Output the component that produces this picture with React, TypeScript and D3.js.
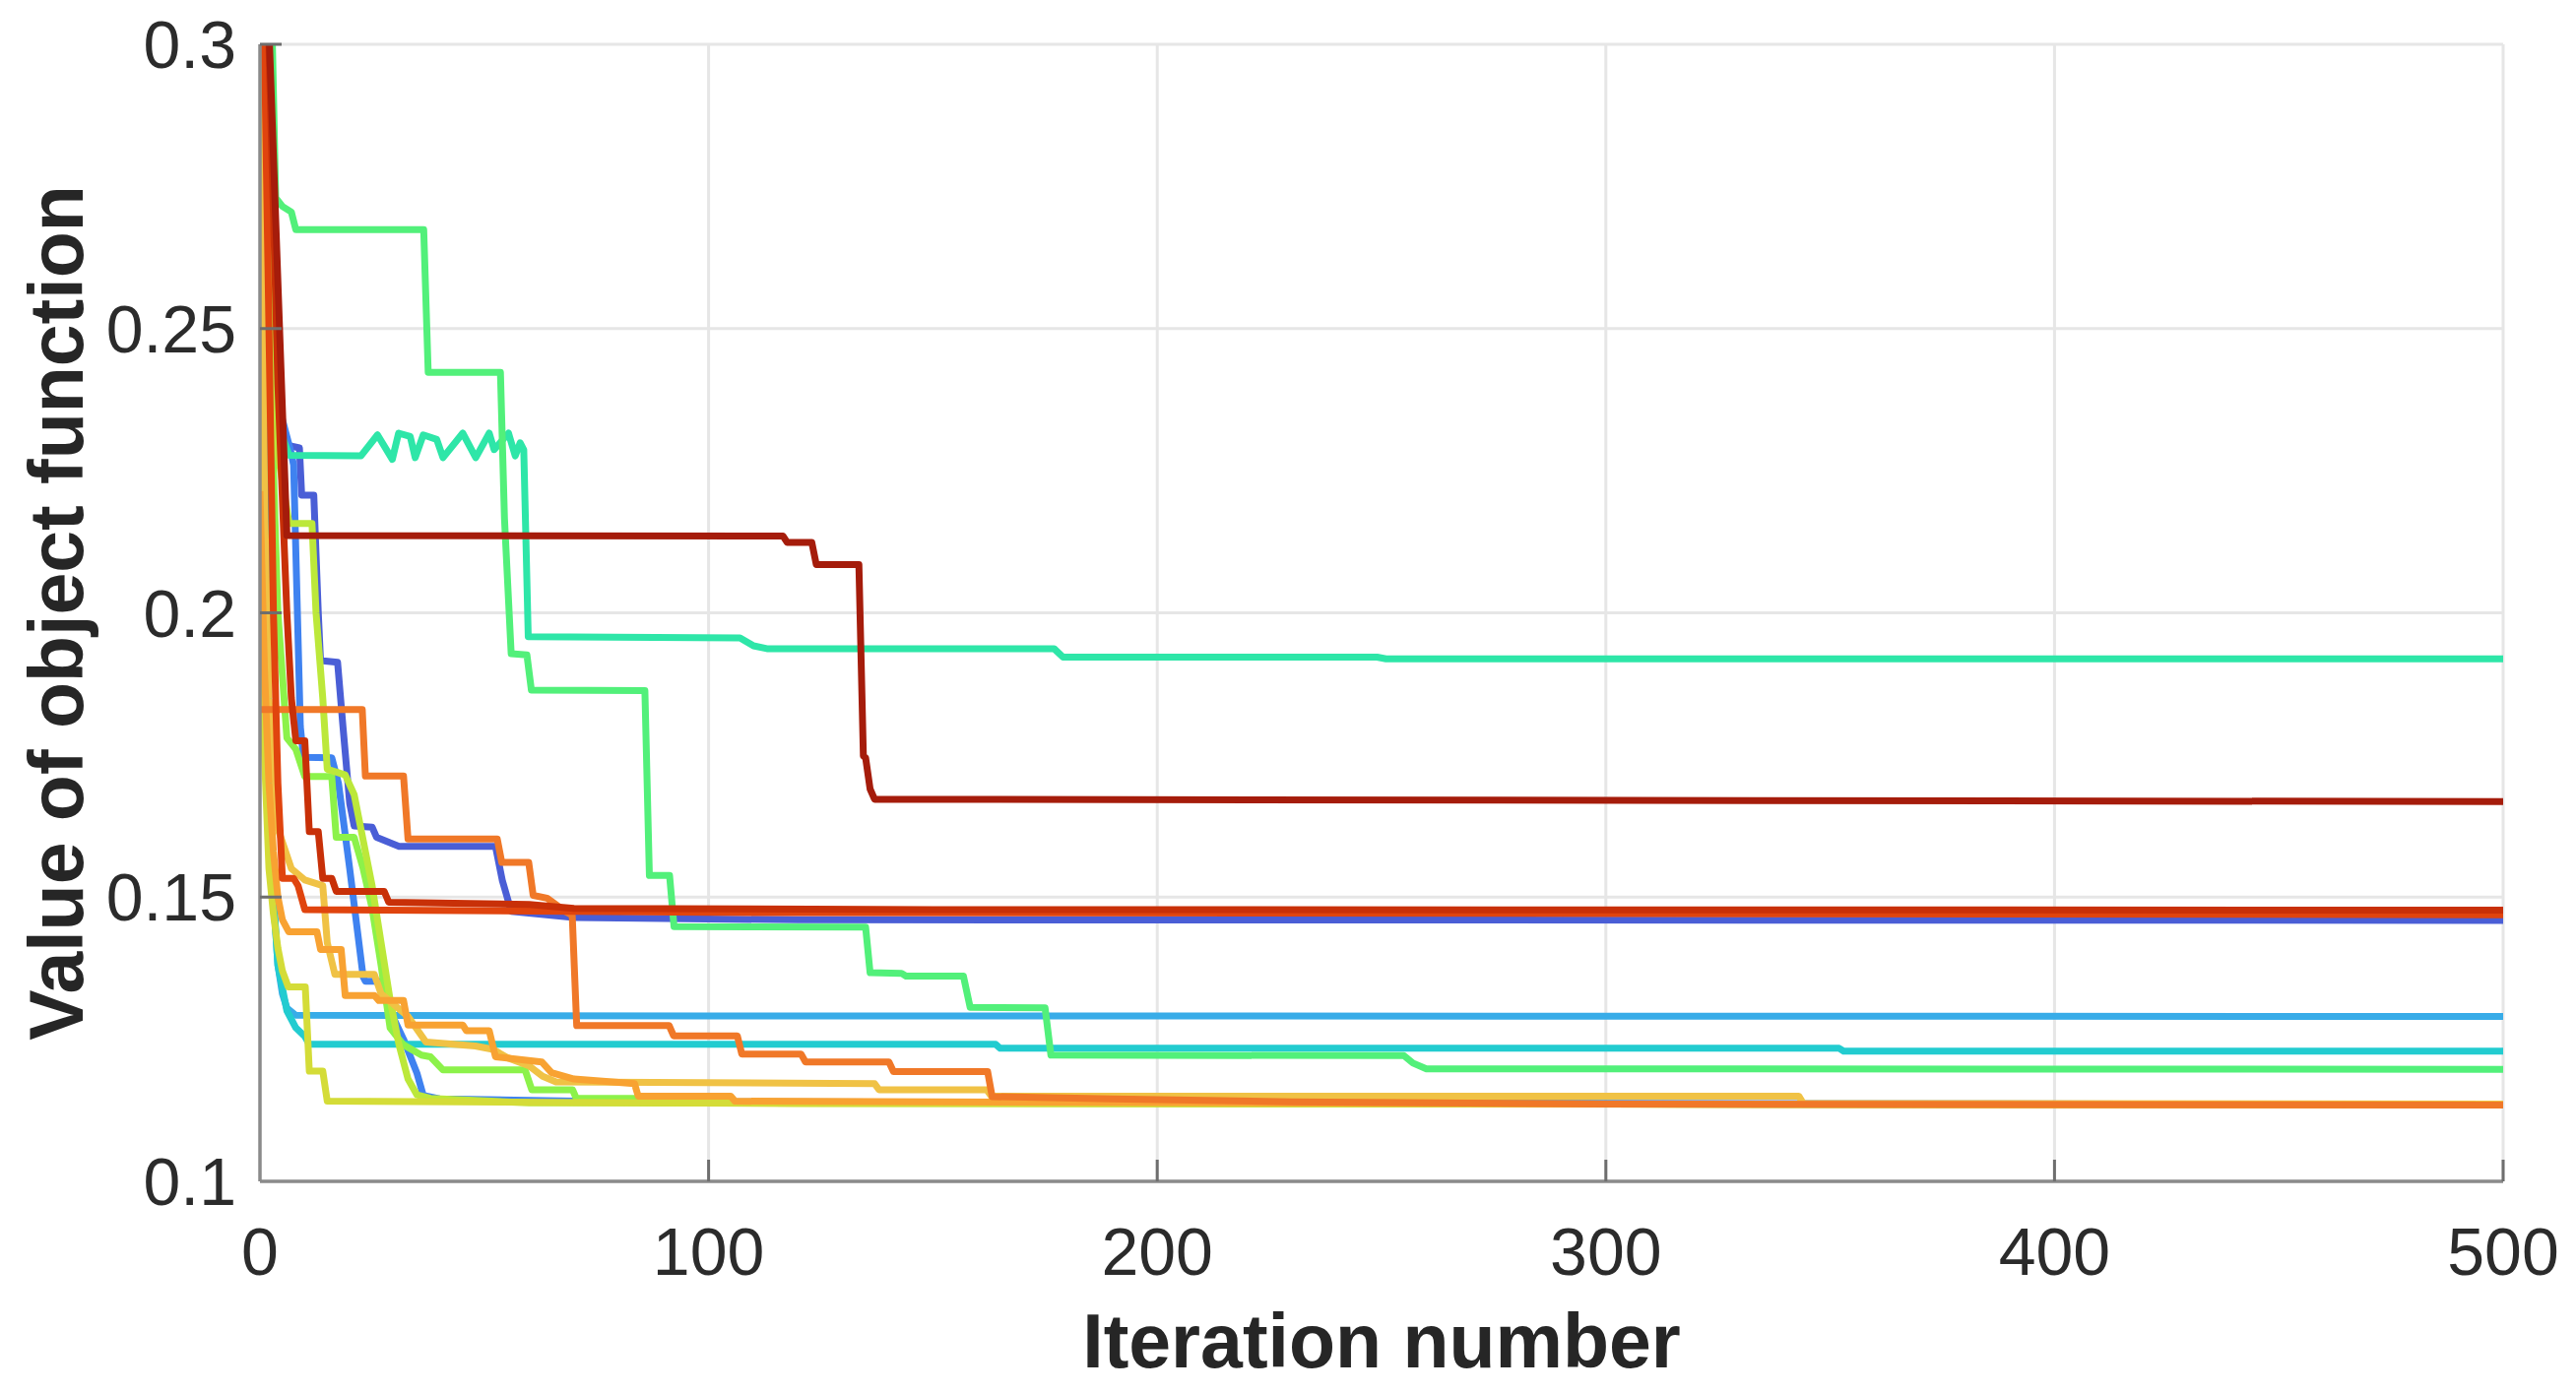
import * as d3 from 'd3';

type Pt = [number, number];

// iteration / best objective value (steps as plateau end points)
const blueA: Pt[] = [
  [0, 0.34], [2, 0.262], [4, 0.236], [6, 0.2295], [8.8, 0.229], [9.3, 0.2207], [12, 0.2207], [13, 0.2],
  [13.5, 0.1916], [17.3, 0.1913], [18.5, 0.18], [20, 0.1665], [21, 0.1625], [25, 0.1623], [26, 0.1605],
  [31, 0.1589], [52.5, 0.1589], [54, 0.153], [56, 0.1475], [70, 0.1464], [120, 0.146], [500, 0.1459],
];
const blueB: Pt[] = [
  [0, 0.33], [1, 0.27], [3, 0.24], [7, 0.228], [7.5, 0.226], [9, 0.18], [9.7, 0.1746], [16, 0.1745],
  [17.5, 0.17], [20, 0.155], [23, 0.136], [23.5, 0.1352], [26.5, 0.1352], [29, 0.13], [32, 0.125],
  [35, 0.119], [36.4, 0.1151], [40, 0.1145], [80, 0.114], [500, 0.1135],
];
const lightBlue: Pt[] = [
  [0, 0.34], [1, 0.22], [2, 0.17], [3, 0.15], [4, 0.138], [5, 0.133], [6, 0.1305], [8, 0.1292],
  [100, 0.1291], [500, 0.129],
];
const cyan: Pt[] = [
  [0, 0.34], [1, 0.24], [2, 0.175], [3, 0.15], [4, 0.138], [6, 0.13], [8, 0.127], [10, 0.1255],
  [11, 0.1241], [164, 0.1241], [165, 0.1234], [352, 0.1234], [353, 0.1229], [500, 0.1229],
];
const teal: Pt[] = [
  [0, 0.34], [0.5, 0.3], [1, 0.276], [2, 0.262], [3, 0.245], [4, 0.237], [5, 0.231], [6.5, 0.2277],
  [22.5, 0.2276], [26.2, 0.2313], [29.5, 0.227], [30.9, 0.2316], [33.5, 0.231], [34.6, 0.2273],
  [36.4, 0.2313], [39.4, 0.2305], [40.8, 0.2273], [45.2, 0.2316], [48.1, 0.2273], [51.1, 0.2316],
  [52.2, 0.2287], [55.4, 0.2316], [56.9, 0.2276], [58, 0.2299], [58.8, 0.2287], [59.8, 0.1958],
  [107, 0.1956], [110, 0.1942], [113, 0.1937], [177, 0.1937], [179, 0.1922], [249, 0.1922],
  [251, 0.1919], [500, 0.1919],
];
const green: Pt[] = [
  [0, 0.36], [2.5, 0.31], [3.5, 0.273], [5, 0.2715], [7, 0.2705], [8, 0.2674], [36.5, 0.2674],
  [37.5, 0.2423], [53.6, 0.2423], [54.5, 0.2166], [56, 0.1928], [59.5, 0.1926], [60.5, 0.1864],
  [85.8, 0.1863], [86.8, 0.1538], [91.3, 0.1538], [92.3, 0.1448], [135, 0.1447], [136, 0.1367],
  [143, 0.1366], [144, 0.1361], [156.8, 0.1361], [158.3, 0.1306], [175, 0.1305], [176.3, 0.1222],
  [255, 0.1221], [257, 0.1208], [260, 0.1198], [500, 0.1197],
];
const lime: Pt[] = [
  [0, 0.34], [2, 0.25], [4, 0.2], [6, 0.178], [8, 0.176], [10, 0.1712], [16, 0.1712], [17, 0.1605],
  [21, 0.1605], [23, 0.155], [25, 0.148], [27, 0.138], [29, 0.127], [32, 0.124], [36, 0.1222],
  [38, 0.1219], [40.8, 0.1196], [59.1, 0.1196], [60.6, 0.1161], [69.7, 0.1161], [70.5, 0.1146],
  [83.5, 0.1146], [85, 0.1138], [500, 0.1134],
];
const yellowGreen: Pt[] = [
  [0, 0.34], [2, 0.26], [4, 0.228], [6.5, 0.2157], [11.6, 0.2157], [12.5, 0.2], [14, 0.185],
  [15, 0.1725], [19, 0.1715], [21, 0.168], [23, 0.16], [25, 0.152], [27, 0.142], [29, 0.132],
  [31, 0.124], [33, 0.118], [35, 0.1152], [38, 0.1146], [60, 0.1138], [500, 0.1134],
];
const yellow: Pt[] = [
  [0, 0.2248], [0.5, 0.2], [1, 0.175], [2, 0.155], [3, 0.147], [4, 0.141], [5, 0.137], [6.3, 0.1342],
  [10.1, 0.1342], [11, 0.1194], [14, 0.1194], [15, 0.1141], [120, 0.1137], [500, 0.1135],
];
const yellowOrange: Pt[] = [
  [0, 0.33], [1, 0.22], [2, 0.185], [4, 0.162], [7, 0.155], [10, 0.153], [14, 0.152], [15, 0.142],
  [16.7, 0.1364], [25.5, 0.1364], [27, 0.133], [33, 0.129], [37, 0.1245], [48, 0.1238], [52, 0.1232],
  [55, 0.1218], [60, 0.1203], [63, 0.1185], [66, 0.1175], [137, 0.1172], [138, 0.1161], [162, 0.1161],
  [163, 0.115], [343, 0.115], [344, 0.1137], [500, 0.1136],
];
const lightOrange: Pt[] = [
  [0, 0.2214], [1, 0.19], [2, 0.17], [3, 0.158], [4, 0.15], [5, 0.146], [6.4, 0.1439], [12.7, 0.1439],
  [13.5, 0.1408], [18.1, 0.1408], [19, 0.1327], [25.5, 0.1327], [26.5, 0.1318], [32, 0.1318],
  [33, 0.1275], [45.2, 0.1275], [46, 0.1265], [51.1, 0.1265], [52.5, 0.1219], [62.8, 0.121],
  [65, 0.1191], [70, 0.118], [83.5, 0.1172], [84.3, 0.115], [104.9, 0.115], [105.9, 0.1141],
  [300, 0.1136], [500, 0.1134],
];
const orange: Pt[] = [
  [0, 0.183], [22.8, 0.183], [23.5, 0.1713], [32, 0.1713], [33, 0.1602], [52.9, 0.1602], [53.9, 0.1561],
  [59.9, 0.1561], [60.9, 0.1503], [64, 0.1498], [68, 0.1475], [69.6, 0.1468], [70.6, 0.1274],
  [91.2, 0.1274], [92.2, 0.1256], [106.4, 0.1256], [107.4, 0.1224], [120.6, 0.1224], [121.6, 0.121],
  [140.2, 0.121], [141.2, 0.1193], [162.2, 0.1193], [163.2, 0.1149], [190, 0.1145], [230, 0.114],
  [300, 0.1136], [500, 0.1134],
];
const orangeRed: Pt[] = [
  [0, 0.35], [1, 0.3], [2, 0.25], [3, 0.2], [4, 0.17], [5, 0.1533], [7.5, 0.1533], [8.5, 0.152],
  [10, 0.1478], [100, 0.1473], [500, 0.1469],
];
const red: Pt[] = [
  [0, 0.36], [2, 0.3], [4, 0.24], [6, 0.2], [7, 0.185], [8, 0.1775], [10, 0.1775], [11, 0.1615],
  [13, 0.1615], [14, 0.1533], [16, 0.1533], [17, 0.151], [27.7, 0.151], [28.7, 0.1491], [60, 0.1487],
  [70, 0.148], [150, 0.1478], [500, 0.1477],
];
const darkRed: Pt[] = [
  [0, 0.34], [1, 0.325], [6, 0.2136], [116.6, 0.2135], [117.5, 0.2124], [123, 0.2124], [124, 0.2085],
  [133.5, 0.2085], [134.5, 0.1748], [135, 0.1745], [136, 0.169], [137, 0.1672], [500, 0.1668],
];

const runs = [blueA, blueB, lightBlue, cyan, teal, green, lime, yellowGreen, yellow, yellowOrange, lightOrange, orange, orangeRed, red, darkRed];
const runColors = [
  '#4a5ed6', '#3f82f0', '#38ace8', '#22ccd0', '#2ee6a8', '#52f07a', '#8cf24a', '#bce83a',
  '#d4dc38', '#f0c245', '#f8a232', '#f07828', '#e0440e', '#c83008', '#a51c0b',
];

const xTicks = [0, 100, 200, 300, 400, 500];
const yTicks = [0.1, 0.15, 0.2, 0.25, 0.3];

const W = 2616;
const H = 1415;
const m = { left: 264, right: 74, top: 45, bottom: 215 };
const font = '"Liberation Sans", Arial, Helvetica, sans-serif';

export default function App() {
  const x = d3.scaleLinear().domain([0, 500]).range([m.left, W - m.right]);
  const y = d3.scaleLinear().domain([0.1, 0.3]).range([H - m.bottom, m.top]);
  const line = d3
    .line<Pt>()
    .x((d) => x(d[0]))
    .y((d) => y(d[1]));

  const x0 = x.range()[0];
  const x1 = x.range()[1];
  const y0 = y.range()[0];
  const y1 = y.range()[1];

  return (
    <svg
      width={W}
      height={H}
      viewBox={`0 0 ${W} ${H}`}
      style={{ position: 'absolute', left: 0, top: 0, background: '#fff' }}
    >
      <defs>
        <clipPath id="plot">
          <rect x={x0} y={y1} width={x1 - x0} height={y0 - y1} />
        </clipPath>
      </defs>

      {/* grid */}
      {xTicks.slice(1).map((t) => (
        <line key={'gx' + t} x1={x(t)} x2={x(t)} y1={y0} y2={y1} stroke="#e6e6e6" strokeWidth={3} />
      ))}
      {yTicks.slice(1).map((t) => (
        <line key={'gy' + t} x1={x0} x2={x1} y1={y(t)} y2={y(t)} stroke="#e6e6e6" strokeWidth={3} />
      ))}

      {/* runs */}
      <g clipPath="url(#plot)" fill="none" strokeWidth={7} strokeLinejoin="round">
        {runs.map((r, i) => (
          <path key={i} d={line(r) ?? ''} stroke={runColors[i]} />
        ))}
      </g>

      {/* axes */}
      <line x1={x0} x2={x1} y1={y0} y2={y0} stroke="#8a8a8a" strokeWidth={3.5} />
      <line x1={x0} x2={x0} y1={y0} y2={y1} stroke="#8a8a8a" strokeWidth={3.5} />
      {xTicks.slice(1).map((t) => (
        <line key={'tx' + t} x1={x(t)} x2={x(t)} y1={y0} y2={y0 - 22} stroke="#6e6e6e" strokeWidth={3} />
      ))}
      {yTicks.slice(1).map((t) => (
        <line key={'ty' + t} x1={x0} x2={x0 + 22} y1={y(t)} y2={y(t)} stroke="#6e6e6e" strokeWidth={3} />
      ))}

      {/* tick labels */}
      <g fontFamily={font} fontSize={68} fill="#2b2b2b">
        {xTicks.map((t) => (
          <text key={'lx' + t} x={x(t)} y={y0 + 95} textAnchor="middle">
            {t}
          </text>
        ))}
        {yTicks.map((t) => (
          <text key={'ly' + t} x={x0 - 24} y={y(t) + 24} textAnchor="end">
            {String(t)}
          </text>
        ))}
      </g>

      {/* axis titles */}
      <text
        x={(x0 + x1) / 2}
        y={1389}
        textAnchor="middle"
        fontFamily={font}
        fontWeight="bold"
        fontSize={77}
        fill="#262626"
      >
        Iteration number
      </text>
      <text
        transform={`translate(84,${(y0 + y1) / 2}) rotate(-90)`}
        textAnchor="middle"
        fontFamily={font}
        fontWeight="bold"
        fontSize={77}
        fill="#262626"
      >
        Value of object function
      </text>
    </svg>
  );
}
